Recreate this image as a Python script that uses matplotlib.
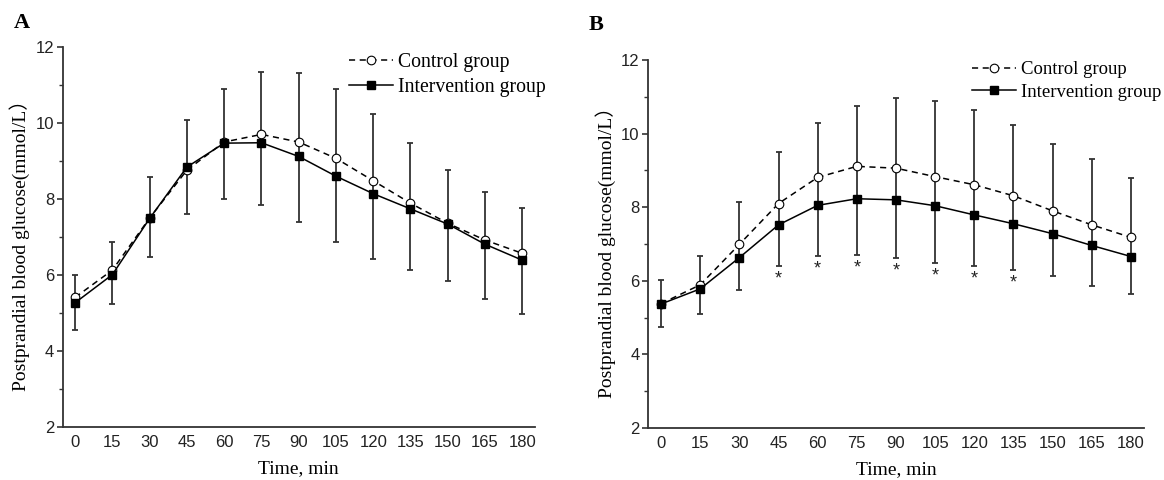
import matplotlib
matplotlib.use("Agg")
import matplotlib.pyplot as plt
from matplotlib.ticker import MultipleLocator
import numpy as np

# ---- data ----
times = [0, 15, 30, 45, 60, 75, 90, 105, 120, 135, 150, 165, 180]

a_control = [5.41, 6.13, 7.50, 8.76, 9.50, 9.70, 9.50, 9.07, 8.48, 7.89, 7.36, 6.92, 6.57]
a_control_sd = [0.58, 0.74, 1.07, 1.31, 1.40, 1.63, 1.81, 1.82, 1.75, 1.59, 1.41, 1.26, 1.20]
a_interv = [5.27, 6.01, 7.49, 8.84, 9.47, 9.48, 9.12, 8.60, 8.14, 7.74, 7.34, 6.81, 6.39]
a_interv_sd = [0.73, 0.77, 1.02, 1.24, 1.47, 1.64, 1.72, 1.74, 1.72, 1.61, 1.51, 1.45, 1.41]

b_control = [5.38, 5.89, 6.99, 8.10, 8.81, 9.11, 9.06, 8.83, 8.61, 8.31, 7.90, 7.52, 7.18]
b_control_sd = [0.64, 0.78, 1.14, 1.40, 1.49, 1.65, 1.90, 2.06, 2.03, 1.93, 1.82, 1.79, 1.61]
b_interv = [5.37, 5.78, 6.63, 7.52, 8.05, 8.23, 8.20, 8.04, 7.79, 7.55, 7.28, 6.96, 6.66]
b_interv_sd = [0.62, 0.68, 0.87, 1.12, 1.38, 1.52, 1.58, 1.56, 1.40, 1.27, 1.16, 1.10, 1.02]
b_significant = [45, 60, 75, 90, 105, 120, 135]

y_ticks = [2, 4, 6, 8, 10, 12]
xlabel = "Time, min"
ylabel = "Postprandial blood glucose(mmol/L\uff09"
legend_labels = ["Control group", "Intervention group"]

SERIF = ["Liberation Serif", "DejaVu Serif"]
SERIF_CJK = ["Liberation Serif", "Noto Sans CJK SC"]
SANS = ["Liberation Sans", "DejaVu Sans"]

fig = plt.figure(figsize=(11.64, 4.8), dpi=100)

def panel(rect, control, control_sd, interv, interv_sd, letter, letter_pos,
          legend_anchor, legend_size, legend_spacing, handle_len, ylabel_x, stars=None):
    ax = fig.add_axes(rect)
    t = np.array(times, dtype=float)
    c = np.array(control); cs = np.array(control_sd)
    iv = np.array(interv); isd = np.array(interv_sd)
    top = c + cs
    bot = iv - isd
    ebc = "#333333"
    ax.vlines(t, np.minimum(bot, top), np.maximum(bot, top), color=ebc, lw=1.3, zorder=1)
    ax.plot(t, top, ls="none", marker="_", ms=4.5, mew=1.3, color=ebc, zorder=1)
    ax.plot(t, bot, ls="none", marker="_", ms=4.5, mew=1.3, color=ebc, zorder=1)
    ax.plot(t, c, ls=(0, (4, 3)), lw=1.1, color="black", marker="o", ms=6.2,
            mfc="white", mec="black", mew=0.8, label=legend_labels[0], zorder=3)
    ax.plot(t, iv, ls="-", lw=1.1, color="black", marker="s", ms=5.6,
            mfc="black", mec="black", label=legend_labels[1], zorder=4)
    if stars is not None:
        for st in stars:
            k = times.index(st)
            ax.text(st, bot[k] - 0.12, "*", ha="center", va="top", fontsize=13,
                    family=SANS, color="#222222")
    ax.set_xlim(-5, 185)
    ax.set_ylim(2, 12)
    ax.set_xticks(times)
    ax.set_xticklabels([str(v) for v in times])
    ax.set_yticks(y_ticks)
    ax.yaxis.set_minor_locator(MultipleLocator(1))
    for s in ["top", "right"]:
        ax.spines[s].set_visible(False)
    for s in ["left", "bottom"]:
        ax.spines[s].set_linewidth(1.3)
        ax.spines[s].set_color("#333333")
    ax.tick_params(axis="x", length=0, pad=6, labelsize=12)
    ax.tick_params(axis="y", which="major", direction="out", length=4, width=1.2,
                   labelsize=12, pad=2, color="#333333")
    ax.tick_params(axis="y", which="minor", direction="out", length=3, width=1.0, color="#333333")
    for lab in ax.get_xticklabels() + ax.get_yticklabels():
        lab.set_family(SANS)
        lab.set_color("#222222")
    ax.set_xlabel(xlabel, family=SERIF, fontsize=14, labelpad=7)
    ax.set_ylabel(ylabel, family=SERIF_CJK, fontsize=14)
    ax.yaxis.set_label_coords(ylabel_x, 0.49)
    ax.legend(loc="upper left", bbox_to_anchor=legend_anchor, frameon=False,
              prop={"family": SERIF, "size": legend_size}, handlelength=handle_len,
              handletextpad=0.25, labelspacing=legend_spacing, borderaxespad=0, borderpad=0)
    fig.text(letter_pos[0], letter_pos[1], letter, family=SERIF, fontsize=16,
             fontweight="bold", ha="left", va="top")
    return ax

panel([62.7/1164, 53/480, 472/1164, 380/480], a_control, a_control_sd, a_interv, a_interv_sd,
      "A", (14/1164, 1 - 13/480), (0.607, 0.985), 14.2, 0.32, 2.2, -0.069)
panel([648/1164, 52/480, 496/1164, 368/480], b_control, b_control_sd, b_interv, b_interv_sd,
      "B", (589/1164, 1 - 15/480), (0.653, 0.997), 13.5, 0.28, 2.35, -0.065,
      stars=b_significant)

fig.savefig("out.png", dpi=100)
